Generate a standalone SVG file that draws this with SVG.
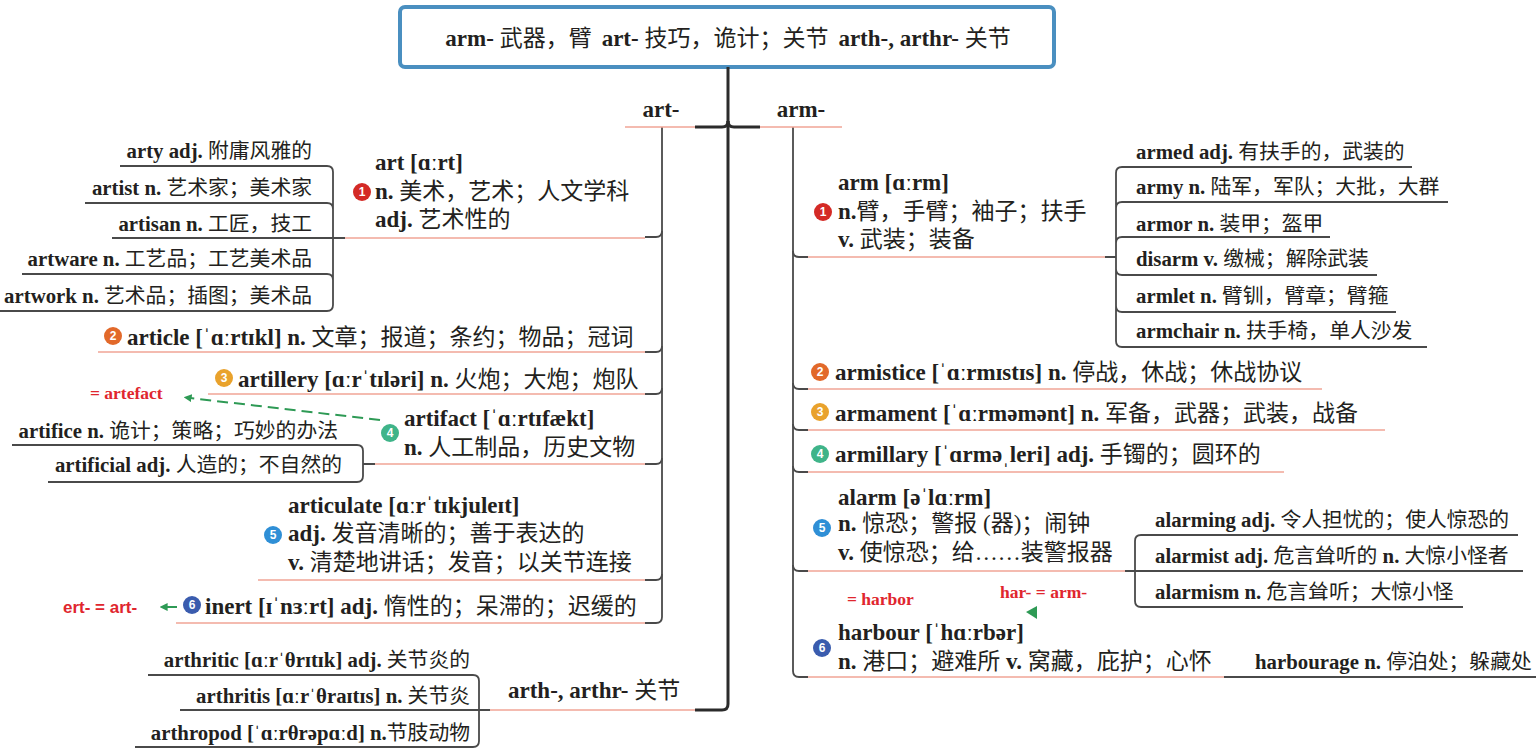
<svg xmlns="http://www.w3.org/2000/svg" width="1536" height="754" viewBox="0 0 1536 754">
<defs>
<style>
.t{font-family:'Liberation Serif','DejaVu Serif','Noto Sans CJK SC',serif;font-weight:bold;font-size:23px;fill:#231f20}
.s{font-size:20.8px}
.ti{font-size:23px}
.z{font-weight:normal}
.pk{stroke:#f0a596;stroke-width:1.6;fill:none}
.ln{stroke:#4a4a4a;stroke-width:1.8;fill:none}
.tr{stroke:#2b2b2b;stroke-width:3;fill:none}
.bn{font-family:'Liberation Sans',sans-serif;font-size:12px;font-weight:bold;fill:#fff;text-anchor:middle}
.red{font-family:'Liberation Serif',serif;font-weight:bold;font-size:17.5px;fill:#e0262e}
.reds{font-family:'Liberation Sans',sans-serif;font-weight:bold;font-size:17px;fill:#e0262e}
.b1{fill:#d42a26}.b2{fill:#e2692a}.b3{fill:#e9a22c}.b4{fill:#3fb489}.b5{fill:#2f8fd6}.b6{fill:#3a5cae}
.ga{stroke:#2e9a55;stroke-width:2;fill:none}
</style>
<marker id="gh" viewBox="0 0 10 10" refX="2" refY="5" markerWidth="8" markerHeight="8" orient="auto-start-reverse" markerUnits="userSpaceOnUse">
<path d="M0,0 L10,5 L0,10 z" fill="#2e9a55"/>
</marker>
</defs>
<rect width="1536" height="754" fill="#fff"/>

<g id="title">
<rect x="400" y="7" width="654" height="60" rx="5" fill="#fff" stroke="#4a8fc0" stroke-width="4"/>
<text class="t ti" x="728" y="46" text-anchor="middle">arm- <tspan class="z">武器，臂</tspan><tspan dx="10">art- </tspan><tspan class="z">技巧，诡计；关节</tspan><tspan dx="10">arth-, arthr- </tspan><tspan class="z">关节</tspan></text>
</g>

<g id="connectors">
<path class="tr" d="M728,67 V704 Q728,710 722,710 H695"/>
<path class="tr" d="M695,127 H722 Q728,127 728,121"/>
<path class="tr" d="M760,127 H734 Q728,127 728,121"/>
<path class="ln" d="M662,127 V617 Q662,623 656,623 H645"/>
<path class="ln" d="M645,237 H656 Q662,237 662,231 M645,352 H656 Q662,352 662,346 M645,394 H656 Q662,394 662,388 M645,464 H656 Q662,464 662,458 M645,580 H656 Q662,580 662,574"/>
<path class="ln" d="M793,127 V671 Q793,677 799,677 H808"/>
<path class="ln" d="M793,251 Q793,257 799,257 H808 M793,383 Q793,389 799,389 H808 M793,424 Q793,430 799,430 H808 M793,466 Q793,472 799,472 H808 M793,565 Q793,571 799,571 H808"/>
<path class="ln" d="M120,166 H327 Q333,166 333,172 V305 Q333,311 327,311 H0 M85,203 H327 Q333,203 333,209 M22,274 H327 Q333,274 333,280 M112,238 H345"/>
<path class="ln" d="M12,445 H357 Q363,445 363,451 V476 Q363,482 357,482 H48 M363,464 H375"/>
<path class="ln" d="M148,675 H473 Q479,675 479,681 V741 Q479,747 473,747 H135 M180,710 H490"/>
<path class="ln" d="M1412,167 H1122 Q1116,167 1116,173 V341 Q1116,347 1122,347 H1427 M1448,202 H1122 Q1116,202 1116,208 M1330,237 H1122 Q1116,237 1116,243 M1377,275 H1122 Q1116,275 1116,269 M1396,312 H1122 Q1116,312 1116,306 M1105,257 H1116"/>
<path class="ln" d="M1518,535 H1141 Q1135,535 1135,541 V601 Q1135,607 1141,607 H1463 M1125,571 H1523"/>
<path class="ln" d="M1224,677 H1536"/>
<path class="ga" d="M380,420 L190,398" stroke-dasharray="11,6" marker-end="url(#gh)"/>
<path class="ga" d="M177,607 H166" marker-end="url(#gh)"/>
<polygon points="1026,612 1037,606 1037,619" fill="#2e9a55"/>
</g>

<g id="art-root">
<text class="t" x="661" y="117" text-anchor="middle">art-</text>
<path class="pk" d="M625,127 H695"/>
</g>
<g id="arm-root">
<text class="t" x="801" y="117" text-anchor="middle">arm-</text>
<path class="pk" d="M760,127 H842"/>
</g>

<g id="art">
<circle class="b1" cx="362" cy="192" r="9"/><text class="bn" x="362" y="196">1</text>
<text class="t" x="375" y="170">art [ɑːrt]<tspan x="375" dy="29">n. </tspan><tspan class="z">美术，艺术；人文学科</tspan><tspan x="375" dy="28">adj. </tspan><tspan class="z">艺术性的</tspan></text>
<path class="pk" d="M345,238 H645"/>
</g>
<g id="arty"><text class="t s" x="312" y="158" text-anchor="end">arty adj. <tspan class="z">附庸风雅的</tspan></text></g>
<g id="artist"><text class="t s" x="312" y="195" text-anchor="end">artist n. <tspan class="z">艺术家；美术家</tspan></text></g>
<g id="artisan"><text class="t s" x="312" y="231" text-anchor="end">artisan n. <tspan class="z">工匠，技工</tspan></text></g>
<g id="artware"><text class="t s" x="312" y="266" text-anchor="end">artware n. <tspan class="z">工艺品；工艺美术品</tspan></text></g>
<g id="artwork"><text class="t s" x="312" y="303" text-anchor="end">artwork n. <tspan class="z">艺术品；插图；美术品</tspan></text></g>

<g id="article">
<circle class="b2" cx="113" cy="336" r="9"/><text class="bn" x="113" y="340">2</text>
<text class="t" x="127" y="345">article [ˈɑːrtɪkl] n. <tspan class="z">文章；报道；条约；物品；冠词</tspan></text>
<path class="pk" d="M98,352 H645"/>
</g>
<g id="artillery">
<circle class="b3" cx="224" cy="378" r="9"/><text class="bn" x="224" y="382">3</text>
<text class="t" x="238" y="387">artillery [ɑːrˈtɪləri] n. <tspan class="z">火炮；大炮；炮队</tspan></text>
<path class="pk" d="M208,394 H645"/>
</g>
<g id="artefact-note"><text class="red" x="90" y="399">= artefact</text></g>
<g id="artifact">
<circle class="b4" cx="390" cy="433" r="9"/><text class="bn" x="390" y="437">4</text>
<text class="t" x="404" y="426">artifact [ˈɑːrtɪfækt]<tspan x="404" dy="29">n. </tspan><tspan class="z">人工制品，历史文物</tspan></text>
<path class="pk" d="M375,464 H645"/>
</g>
<g id="artifice"><text class="t s" x="338" y="438" text-anchor="end">artifice n. <tspan class="z">诡计；策略；巧妙的办法</tspan></text></g>
<g id="artificial"><text class="t s" x="342" y="472" text-anchor="end">artificial adj. <tspan class="z">人造的；不自然的</tspan></text></g>
<g id="articulate">
<circle class="b5" cx="273" cy="535" r="9"/><text class="bn" x="273" y="539">5</text>
<text class="t" x="288" y="513">articulate [ɑːrˈtɪkjuleɪt]<tspan x="288" dy="28">adj. </tspan><tspan class="z">发音清晰的；善于表达的</tspan><tspan x="288" dy="29">v. </tspan><tspan class="z">清楚地讲话；发音；以关节连接</tspan></text>
<path class="pk" d="M258,580 H645"/>
</g>
<g id="inert">
<circle class="b6" cx="192" cy="605" r="9"/><text class="bn" x="192" y="609">6</text>
<text class="t" x="205" y="614">inert [ɪˈnɜːrt] adj. <tspan class="z">惰性的；呆滞的；迟缓的</tspan></text>
<path class="pk" d="M176,623 H645"/>
</g>
<g id="ert-note"><text class="reds" x="63" y="613">ert- = art-</text></g>

<g id="arth">
<text class="t" x="508" y="698">arth-, arthr- <tspan class="z">关节</tspan></text>
<path class="pk" d="M490,710 H695"/>
</g>
<g id="arthritic"><text class="t s" x="470" y="667" text-anchor="end">arthritic [ɑːrˈθrɪtɪk] adj. <tspan class="z">关节炎的</tspan></text></g>
<g id="arthritis"><text class="t s" x="470" y="703" text-anchor="end">arthritis [ɑːrˈθraɪtɪs] n. <tspan class="z">关节炎</tspan></text></g>
<g id="arthropod"><text class="t s" x="470" y="740" text-anchor="end">arthropod [ˈɑːrθrəpɑːd] n.<tspan class="z">节肢动物</tspan></text></g>

<g id="arm">
<circle class="b1" cx="823" cy="212" r="9"/><text class="bn" x="823" y="216">1</text>
<text class="t" x="838" y="190">arm [ɑːrm]<tspan x="838" dy="29">n.</tspan><tspan class="z">臂，手臂；袖子；扶手</tspan><tspan x="838" dy="28">v. </tspan><tspan class="z">武装；装备</tspan></text>
<path class="pk" d="M808,257 H1105"/>
</g>
<g id="armed"><text class="t s" x="1136" y="159">armed adj. <tspan class="z">有扶手的，武装的</tspan></text></g>
<g id="army"><text class="t s" x="1136" y="194">army n. <tspan class="z">陆军，军队；大批，大群</tspan></text></g>
<g id="armor"><text class="t s" x="1136" y="231">armor n. <tspan class="z">装甲；盔甲</tspan></text></g>
<g id="disarm"><text class="t s" x="1136" y="266">disarm v. <tspan class="z">缴械；解除武装</tspan></text></g>
<g id="armlet"><text class="t s" x="1136" y="303">armlet n. <tspan class="z">臂钏，臂章；臂箍</tspan></text></g>
<g id="armchair"><text class="t s" x="1136" y="338">armchair n. <tspan class="z">扶手椅，单人沙发</tspan></text></g>

<g id="armistice">
<circle class="b2" cx="820" cy="372" r="9"/><text class="bn" x="820" y="376">2</text>
<text class="t" x="835" y="380">armistice [ˈɑːrmɪstɪs] n. <tspan class="z">停战，休战；休战协议</tspan></text>
<path class="pk" d="M808,389 H1322"/>
</g>
<g id="armament">
<circle class="b3" cx="820" cy="412" r="9"/><text class="bn" x="820" y="416">3</text>
<text class="t" x="835" y="421">armament [ˈɑːrməmənt] n. <tspan class="z">军备，武器；武装，战备</tspan></text>
<path class="pk" d="M808,430 H1385"/>
</g>
<g id="armillary">
<circle class="b4" cx="820" cy="454" r="9"/><text class="bn" x="820" y="458">4</text>
<text class="t" x="835" y="462">armillary [ˈɑrməˌleri] adj. <tspan class="z">手镯的；圆环的</tspan></text>
<path class="pk" d="M808,472 H1284"/>
</g>
<g id="alarm">
<circle class="b5" cx="822" cy="528" r="9"/><text class="bn" x="822" y="532">5</text>
<text class="t" x="838" y="505">alarm [əˈlɑːrm]<tspan x="838" dy="26">n. </tspan><tspan class="z">惊恐；警报 (器)；闹钟</tspan><tspan x="838" dy="29">v. </tspan><tspan class="z">使惊恐；给……装警报器</tspan></text>
<path class="pk" d="M808,571 H1125"/>
</g>
<g id="alarming"><text class="t s" x="1155" y="527">alarming adj. <tspan class="z">令人担忧的；使人惊恐的</tspan></text></g>
<g id="alarmist"><text class="t s" x="1155" y="563">alarmist adj. <tspan class="z">危言耸听的</tspan> n. <tspan class="z">大惊小怪者</tspan></text></g>
<g id="alarmism"><text class="t s" x="1155" y="599">alarmism n. <tspan class="z">危言耸听；大惊小怪</tspan></text></g>

<g id="harbor-note"><text class="red" x="847" y="605">= harbor</text></g>
<g id="har-note"><text class="red" x="1000" y="598">har- = arm-</text></g>
<g id="harbour">
<circle class="b6" cx="822" cy="648" r="9"/><text class="bn" x="822" y="652">6</text>
<text class="t" x="838" y="640">harbour [ˈhɑːrbər]<tspan x="838" dy="29">n. </tspan><tspan class="z">港口；避难所</tspan> v. <tspan class="z">窝藏，庇护；心怀</tspan></text>
<path class="pk" d="M808,677 H1224"/>
</g>
<g id="harbourage"><text class="t s" x="1255" y="669">harbourage n. <tspan class="z">停泊处；躲藏处</tspan></text></g>
</svg>
